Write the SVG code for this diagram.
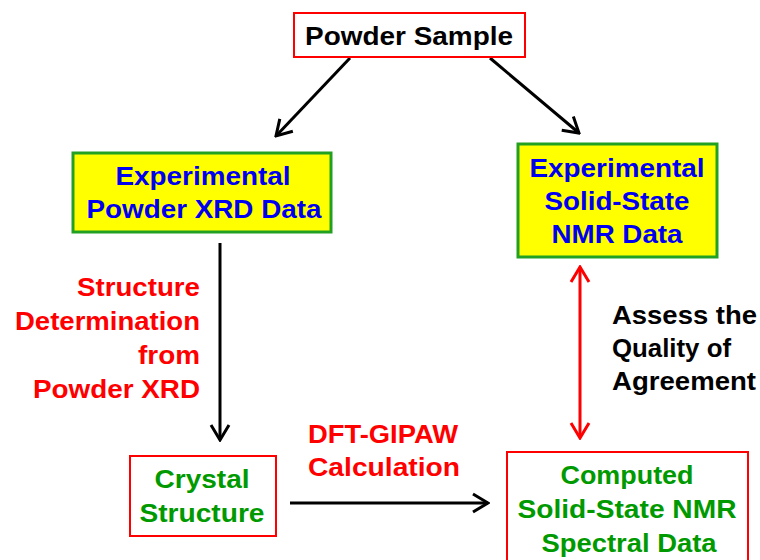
<svg xmlns="http://www.w3.org/2000/svg" width="760" height="560" viewBox="0 0 760 560">
<style>
text{font-family:"Liberation Sans",Arial,sans-serif;font-weight:bold;font-size:25px;text-anchor:middle}
.blk{fill:#000}
.blu{fill:#0000F0}
.grn{fill:#009A00}
.red{fill:#FF0000}
.rbox{fill:#fff;stroke:#FF0000;stroke-width:2}
.ybox{fill:#FFFF00;stroke:#22A022;stroke-width:3}
.ln{fill:none;stroke:#000;stroke-width:3}
.rln{fill:none;stroke:#FF0000;stroke-width:3}
</style>
<defs>
<marker id="ah" viewBox="0 0 22 22" refX="20" refY="11" markerWidth="22" markerHeight="22" orient="auto-start-reverse" markerUnits="userSpaceOnUse">
<path d="M5,2 L20,11 L5,20" fill="none" stroke="#000" stroke-width="3"/>
</marker>
<marker id="rah" viewBox="0 0 22 22" refX="20" refY="11" markerWidth="22" markerHeight="22" orient="auto-start-reverse" markerUnits="userSpaceOnUse">
<path d="M5,2 L20,11 L5,20" fill="none" stroke="#FF0000" stroke-width="3"/>
</marker>
</defs>
<rect width="760" height="560" fill="#fff"/>
<g id="connectors">
<line class="ln" x1="350" y1="58" x2="276" y2="136" marker-end="url(#ah)"/>
<line class="ln" x1="490" y1="58" x2="579" y2="133" marker-end="url(#ah)"/>
<line class="ln" x1="220" y1="243" x2="220" y2="440" marker-end="url(#ah)"/>
<line class="ln" x1="290" y1="503" x2="488" y2="503" marker-end="url(#ah)"/>
<line class="rln" x1="580" y1="267" x2="580" y2="438" marker-start="url(#rah)" marker-end="url(#rah)"/>
</g>
<g id="powder-sample">
<rect class="rbox" x="294" y="13" width="231" height="44"/>
<text class="blk" x="409" y="45" textLength="208" lengthAdjust="spacingAndGlyphs">Powder Sample</text>
</g>
<g id="exp-xrd">
<rect class="ybox" x="73" y="153" width="258" height="79"/>
<text class="blu" x="203" y="185" textLength="175" lengthAdjust="spacingAndGlyphs">Experimental</text>
<text class="blu" x="204" y="218" textLength="235" lengthAdjust="spacingAndGlyphs">Powder XRD Data</text>
</g>
<g id="exp-nmr">
<rect class="ybox" x="518" y="144" width="199" height="113"/>
<text class="blu" x="617" y="177" textLength="175" lengthAdjust="spacingAndGlyphs">Experimental</text>
<text class="blu" x="617" y="210" textLength="145" lengthAdjust="spacingAndGlyphs">Solid-State</text>
<text class="blu" x="617" y="243" textLength="131" lengthAdjust="spacingAndGlyphs">NMR Data</text>
</g>
<g id="crystal">
<rect class="rbox" x="130" y="456" width="146" height="80"/>
<text class="grn" x="202" y="488" textLength="95" lengthAdjust="spacingAndGlyphs">Crystal</text>
<text class="grn" x="202" y="522" textLength="125" lengthAdjust="spacingAndGlyphs">Structure</text>
</g>
<g id="computed">
<rect class="rbox" x="507" y="452" width="241" height="115"/>
<text class="grn" x="627" y="484" textLength="133" lengthAdjust="spacingAndGlyphs">Computed</text>
<text class="grn" x="627" y="518" textLength="219" lengthAdjust="spacingAndGlyphs">Solid-State NMR</text>
<text class="grn" x="629" y="552" textLength="175" lengthAdjust="spacingAndGlyphs">Spectral Data</text>
</g>
<g id="label-structure-determination">
<text class="red" x="200" y="296" style="text-anchor:end" textLength="123" lengthAdjust="spacingAndGlyphs">Structure</text>
<text class="red" x="200" y="330" style="text-anchor:end" textLength="185" lengthAdjust="spacingAndGlyphs">Determination</text>
<text class="red" x="200" y="364" style="text-anchor:end" textLength="62" lengthAdjust="spacingAndGlyphs">from</text>
<text class="red" x="200" y="398" style="text-anchor:end" textLength="167" lengthAdjust="spacingAndGlyphs">Powder XRD</text>
</g>
<g id="label-dft">
<text class="red" x="383" y="443" textLength="150" lengthAdjust="spacingAndGlyphs">DFT-GIPAW</text>
<text class="red" x="384" y="476" textLength="152" lengthAdjust="spacingAndGlyphs">Calculation</text>
</g>
<g id="label-assess">
<text class="blk" x="612" y="324" style="text-anchor:start" textLength="145" lengthAdjust="spacingAndGlyphs">Assess the</text>
<text class="blk" x="612" y="357" style="text-anchor:start" textLength="119" lengthAdjust="spacingAndGlyphs">Quality of</text>
<text class="blk" x="612" y="390" style="text-anchor:start" textLength="144" lengthAdjust="spacingAndGlyphs">Agreement</text>
</g>
</svg>
